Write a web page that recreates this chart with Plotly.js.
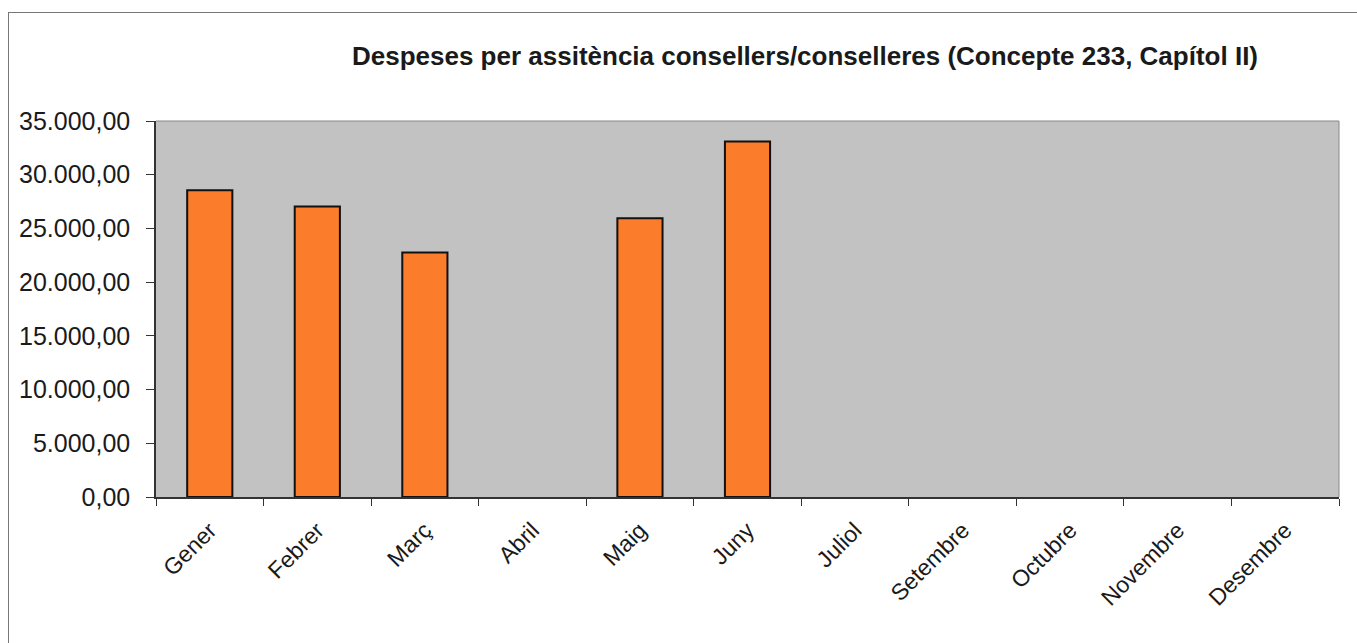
<!DOCTYPE html>
<html>
<head>
<meta charset="utf-8">
<script src="https://cdn.plot.ly/plotly-3.0.1.min.js"></script>
<style>
html,body{margin:0;padding:0;background:#fff;}
#frame{position:absolute;left:8px;top:12px;width:1360px;height:640px;border-left:1.5px solid #777;border-top:1.5px solid #777;}
#chart{position:absolute;left:0;top:0;width:1357px;height:643px;}
</style>
</head>
<body>
<div id="frame"></div>
<div id="chart"></div>
<script>
const months = ["Gener","Febrer","Març","Abril","Maig","Juny","Juliol","Setembre","Octubre","Novembre","Desembre"];
const despeses = [28550, 27050, 22750, null, 25950, 33100, null, null, null, null, null];
const yTicks = [0, 5000, 10000, 15000, 20000, 25000, 30000, 35000];

const trace = {
  type: "bar",
  x: months,
  y: despeses,
  marker: {color: "#fb7d2c", line: {color: "#111", width: 2}},
  hoverinfo: "x+y"
};

const layout = {
  width: 1357, height: 643,
  paper_bgcolor: "rgba(0,0,0,0)",
  plot_bgcolor: "#c2c2c2",
  separators: ",.",
  margin: {l: 156, r: 18, t: 121, b: 146},
  bargap: 0.58,
  showlegend: false,
  font: {family: "Liberation Sans, Arial, sans-serif", color: "#111"},
  title: {
    text: "<b>Despeses per assitència consellers/conselleres (Concepte 233, Capítol II)</b>",
    font: {size: 26, family: "Liberation Sans, Arial, sans-serif", color: "#1a1a1a"},
    x: 805/1357, xanchor: "center", xref: "container",
    y: 1 - 56/643, yanchor: "middle", yref: "container"
  },
  xaxis: {
    type: "category",
    tickangle: -45,
    tickfont: {size: 23, color: "#1a1a1a"},
    ticks: "outside", tickson: "boundaries", ticklen: 7, tickcolor: "#333",
    ticklabelstandoff: 9,
    showline: true, linecolor: "#333", linewidth: 1.5,
    mirror: false, showgrid: false, zeroline: false,
    range: [-0.5, 10.5]
  },
  yaxis: {
    range: [0, 35000],
    tickvals: yTicks,
    tickformat: ",.2f",
    tickfont: {size: 25, color: "#1a1a1a"},
    ticks: "outside", ticklen: 8, tickcolor: "#333",
    ticklabelstandoff: 11,
    showline: true, linecolor: "#333", linewidth: 1.5,
    showgrid: false, zeroline: false
  },
  shapes: [
    {type: "line", xref: "paper", yref: "paper", x0: 0, x1: 1, y0: 1, y1: 1, line: {color: "#888", width: 1}},
    {type: "line", xref: "paper", yref: "paper", x0: 1, x1: 1, y0: 0, y1: 1, line: {color: "#888", width: 1}}
  ]
};

Plotly.newPlot("chart", [trace], layout, {displayModeBar: false, responsive: false});
</script>
</body>
</html>
